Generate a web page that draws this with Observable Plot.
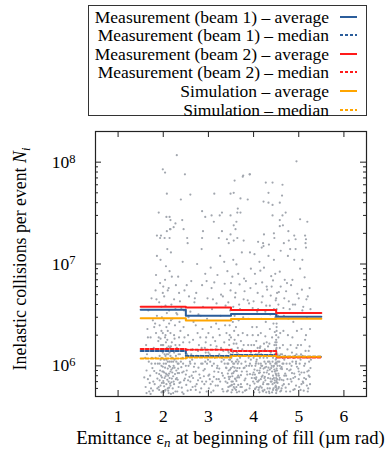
<!DOCTYPE html>
<html><head><meta charset="utf-8">
<script src="https://cdn.jsdelivr.net/npm/d3@7"></script>
<script src="https://cdn.jsdelivr.net/npm/@observablehq/plot@0.6"></script>
<style>
body{margin:0;background:#fff;}
#wrap{position:relative;width:389px;height:451px;font-family:"Liberation Serif";}
#chart{position:absolute;left:0;top:0;}
#chart svg text{font-family:"Liberation Serif";}
#legend{position:absolute;left:88px;top:5px;width:277px;height:109px;border:1px solid #333;background:#fff;font-size:17.5px;color:#000;}
.row{position:absolute;left:0;width:277px;height:18px;}
.row .lbl{position:absolute;right:37px;top:0;line-height:18px;white-space:nowrap;}
.row svg{position:absolute;left:250px;top:0;}
</style></head>
<body><div id="wrap"><div id="chart"></div><div id="legend"></div></div>
<script>
// ---- data ----
const binEdges = [1.5, 2.5, 3.5, 4.5, 5.5];
const beam1Average = [3.55e6, 3.10e6, 3.22e6, 3.03e6];
const beam1Median  = [1.40e6, 1.25e6, 1.28e6, 1.23e6];
const beam2Average = [3.80e6, 3.74e6, 3.53e6, 3.30e6];
const beam2Median  = [1.46e6, 1.44e6, 1.40e6, 1.21e6];
const simAverage   = [2.94e6, 2.79e6, 2.88e6, 2.90e6];
const simMedian    = [1.18e6, 1.21e6, 1.25e6, 1.23e6];

const seriesNames = [
  "Measurement (beam 1) – average", "Measurement (beam 1) – median",
  "Measurement (beam 2) – average", "Measurement (beam 2) – median",
  "Simulation – average", "Simulation – median"];
const seriesColors = ["#2b5d9b", "#2b5d9b", "#ff1a1a", "#ff1a1a", "#ffa500", "#ffa500"];
const seriesDashed = [false, true, false, true, false, true];

const xTickValues = [1, 2, 3, 4, 5, 6];
const yTickValues = [1e6, 1e7, 1e8];
const yMinorTicks = [6e5,7e5,8e5,9e5,2e6,3e6,4e6,5e6,6e6,7e6,8e6,9e6,2e7,3e7,4e7,5e7,6e7,7e7,8e7,9e7];

// fills: [emittance, N_i]
const fills = [
[1.61,6.2e5],[1.63,9e5],[1.62,1.6e6],[1.66,7.4e5],[1.68,1.1e6],[1.65,2.3e6],[1.69,5.6e5],[1.67,3.5e6],[1.64,1.3e6],
[1.71,8e5],[1.73,6e5],[1.72,1.9e6],[1.75,1.2e6],[1.77,2.8e6],[1.74,4.6e6],[1.78,7e5],[1.79,1.5e6],[1.76,9.5e5],[1.72,5.3e5],
[1.81,6.6e5],[1.82,1.05e6],[1.84,2.1e6],[1.85,8.5e5],[1.86,3.1e6],[1.83,5.5e6],[1.88,1.4e6],[1.87,6e5],[1.89,1.75e6],[1.84,7.8e6],[1.86,1.2e7],[1.82,2.6e6],
[1.91,5.8e5],[1.92,7.2e5],[1.93,9e5],[1.94,1.15e6],[1.95,1.6e6],[1.96,2.2e6],[1.97,3e6],[1.91,4.2e6],[1.93,6.5e6],[1.98,8.8e5],[1.99,1.35e6],[1.95,1.9e7],[1.92,2.5e6],[1.97,6.8e5],[1.99,5.2e6],[1.94,1.1e7],
[2.01,5.5e5],[2.02,6.3e5],[2.03,7.6e5],[2.04,9.6e5],[2.05,1.25e6],[2.06,1.7e6],[2.07,2.4e6],[2.08,3.3e6],[2.02,4.8e6],[2.04,7e6],[2.06,9.5e6],[2.09,1.4e7],[2.01,1.05e6],[2.03,1.45e6],[2.05,2e6],[2.08,8.2e5],[2.1,6e5],[2.07,2.9e7],[2.03,1.8e7],
[2.11,5.7e5],[2.12,7e5],[2.13,8.4e5],[2.14,1.1e6],[2.15,1.5e6],[2.16,2.1e6],[2.17,2.8e6],[2.18,4e6],[2.12,5.8e6],[2.14,8.5e6],[2.19,1.2e6],[2.16,6.4e5],[2.18,9.2e5],[2.11,1.3e6],[2.13,2.6e6],[2.17,1.3e7],[2.15,2.2e7],
[2.21,6e5],[2.22,7.9e5],[2.23,1e6],[2.24,1.35e6],[2.25,1.85e6],[2.26,2.5e6],[2.27,3.6e6],[2.28,6.2e6],[2.29,9e5],[2.22,5.4e5],[2.25,1.15e6],[2.27,1.6e6],[2.23,2.3e7],
[2.31,5.6e5],[2.32,7.3e5],[2.33,9.4e5],[2.34,1.3e6],[2.35,1.9e6],[2.36,2.7e6],[2.37,4.3e6],[2.38,6.9e5],[2.39,1.1e6],[2.33,7.5e6],[2.36,1.6e6],[2.31,3.2e6],
[2.41,6.1e5],[2.42,8.6e5],[2.43,1.2e6],[2.44,1.7e6],[2.45,2.4e6],[2.46,3.5e6],[2.47,5.5e6],[2.48,7.5e5],[2.49,1.4e6],[2.43,1.05e7],[2.45,5.3e5],
[2.51,6.5e5],[2.52,9e5],[2.53,1.3e6],[2.55,2e6],[2.56,3e6],[2.57,4.8e6],[2.58,7.8e5],[2.59,1.1e6],[2.54,1.6e7],
[2.61,5.8e5],[2.63,8e5],[2.64,1.15e6],[2.66,1.8e6],[2.67,2.7e6],[2.69,4.2e6],[2.62,6.8e6],[2.68,9.8e5],[2.65,1.45e6],
[2.71,6.3e5],[2.72,8.8e5],[2.74,1.25e6],[2.76,2.1e6],[2.78,3.2e6],[2.73,5.2e6],[2.77,7.2e5],[2.79,1.6e6],[2.75,1e7],
[2.81,5.5e5],[2.82,7.6e5],[2.84,1.05e6],[2.85,1.5e6],[2.87,2.3e6],[2.88,3.8e6],[2.86,6.2e6],[2.89,9e5],[2.83,1.25e6],[2.85,1.4e7],
[2.91,6.6e5],[2.92,9.3e5],[2.94,1.35e6],[2.95,1.9e6],[2.97,2.9e6],[2.98,4.6e6],[2.93,8e6],[2.96,5.6e5],[2.99,1.15e6],[2.94,1.7e6],
[3.01,6e5],[3.02,8.2e5],[3.04,1.1e6],[3.05,1.6e6],[3.06,2.4e6],[3.08,3.6e6],[3.07,5.8e6],[3.09,7e5],[3.03,1.3e6],[3.05,9.2e6],
[3.11,5.7e5],[3.12,7.8e5],[3.14,1.2e6],[3.15,1.75e6],[3.17,2.6e6],[3.18,4.1e6],[3.13,6.6e6],[3.19,9.5e5],[3.16,1.45e6],
[3.21,6.4e5],[3.22,8.7e5],[3.24,1.3e6],[3.25,2e6],[3.27,3.1e6],[3.28,5e6],[3.23,7.4e5],[3.29,1.1e6],[3.26,1.2e7],
[3.31,5.9e5],[3.32,8e5],[3.34,1.15e6],[3.35,1.7e6],[3.37,2.5e6],[3.38,3.9e6],[3.36,6.4e6],[3.39,9.6e5],[3.33,1.4e6],[3.35,1.05e7],
[3.41,5.6e5],[3.42,6.8e5],[3.43,8.4e5],[3.44,1.05e6],[3.45,1.35e6],[3.46,1.8e6],[3.47,2.5e6],[3.48,3.5e6],[3.49,5.5e6],[3.42,8.5e6],[3.44,1.4e6],[3.46,7.4e5],[3.48,1.15e6],[3.45,1.6e7],[3.47,2e6],
[3.51,5.5e5],[3.52,6.5e5],[3.53,7.9e5],[3.54,9.8e5],[3.55,1.25e6],[3.56,1.65e6],[3.57,2.2e6],[3.58,3.1e6],[3.59,4.7e6],[3.53,7.5e6],[3.55,1.1e7],[3.57,8.8e5],[3.52,1.45e6],[3.58,6e5],[3.54,2.7e6],[3.56,1.7e7],
[3.61,5.8e5],[3.62,7.1e5],[3.63,8.9e5],[3.64,1.15e6],[3.65,1.5e6],[3.66,2e6],[3.67,2.8e6],[3.68,4e6],[3.69,6.3e6],[3.62,9.9e6],[3.66,1.3e6],[3.68,7.7e5],[3.64,1.8e7],[3.61,2.4e6],
[3.71,6.2e5],[3.72,8.1e5],[3.73,1.05e6],[3.75,1.45e6],[3.76,2.1e6],[3.77,3e6],[3.78,4.5e6],[3.79,7.2e6],[3.74,1.3e7],[3.76,5.5e5],[3.72,1.75e6],[3.78,9.5e5],
[3.81,5.7e5],[3.82,7.5e5],[3.84,1e6],[3.85,1.4e6],[3.86,2e6],[3.88,2.9e6],[3.87,4.4e6],[3.89,1.2e6],[3.83,6.8e6],[3.85,8.8e5],
[3.91,6e5],[3.92,8.3e5],[3.94,1.15e6],[3.95,1.6e6],[3.97,2.4e6],[3.98,3.7e6],[3.93,5.8e6],[3.99,7e5],[3.96,1e6],[3.94,9e6],
[4.01,5.5e5],[4.02,6.7e5],[4.03,8.2e5],[4.04,1e6],[4.05,1.3e6],[4.06,1.75e6],[4.07,2.4e6],[4.08,3.4e6],[4.09,5.2e6],[4.03,8e6],[4.05,7.4e5],[4.07,1.15e6],[4.09,1.5e6],[4.02,1.25e7],
[4.11,5.8e5],[4.12,7.2e5],[4.13,9e5],[4.14,1.2e6],[4.15,1.55e6],[4.16,2.1e6],[4.17,2.9e6],[4.18,4.2e6],[4.19,6.6e6],[4.13,1.05e7],[4.15,6.3e5],[4.17,1e6],[4.12,1.35e6],
[4.21,5.6e5],[4.22,6.9e5],[4.23,8.6e5],[4.24,1.1e6],[4.25,1.45e6],[4.26,1.95e6],[4.27,2.7e6],[4.28,3.9e6],[4.29,6e6],[4.23,9.2e6],[4.25,7.8e5],[4.27,1.25e6],[4.21,1.6e7],[4.29,1.7e6],
[4.31,6e5],[4.32,7.6e5],[4.33,9.6e5],[4.34,1.25e6],[4.35,1.65e6],[4.36,2.3e6],[4.37,3.2e6],[4.38,4.9e6],[4.39,7.6e6],[4.33,1.2e7],[4.35,5.4e5],[4.37,1.05e6],[4.31,1.4e6],
[4.41,5.5e5],[4.42,6.6e5],[4.43,8e5],[4.44,9.8e5],[4.45,1.25e6],[4.46,1.6e6],[4.47,2.15e6],[4.48,3e6],[4.49,4.4e6],[4.43,6.9e6],[4.45,1.1e7],[4.47,7.2e5],[4.49,1.15e6],[4.41,1.9e6],[4.44,2.6e6],[4.46,1.8e7],
[4.50,5.4e5],[4.50,6.2e5],[4.51,7.1e5],[4.50,8.2e5],[4.51,9.4e5],[4.50,1.08e6],[4.51,1.25e6],[4.50,1.45e6],[4.51,1.7e6],[4.50,2e6],[4.51,2.4e6],[4.50,2.9e6],[4.51,3.6e6],[4.50,4.6e6],[4.55,6e5],[4.56,8e5],[4.57,1.1e6],[4.58,1.5e6],[4.59,2.1e6],[4.54,3.1e6],[4.56,5.3e6],[4.58,8.4e6],[4.53,1.3e6],
[4.61,5.7e5],[4.62,7.3e5],[4.63,9.3e5],[4.64,1.2e6],[4.65,1.6e6],[4.66,2.2e6],[4.67,3.1e6],[4.68,4.6e6],[4.69,7e6],[4.63,1.3e6],[4.65,2.4e7],[4.67,6.6e5],
[4.71,6.1e5],[4.72,8e5],[4.73,1.05e6],[4.75,1.45e6],[4.76,2e6],[4.77,2.9e6],[4.78,4.3e6],[4.79,9e5],[4.74,6.5e6],[4.76,1.2e7],
[4.81,5.6e5],[4.82,7.4e5],[4.84,1e6],[4.85,1.35e6],[4.86,1.9e6],[4.88,2.7e6],[4.87,4e6],[4.89,1.2e6],[4.83,6.2e6],[4.85,8.5e5],
[4.91,5.9e5],[4.92,7.8e5],[4.94,1.1e6],[4.95,1.5e6],[4.96,2.2e6],[4.98,3.3e6],[4.97,5.1e6],[4.93,1.4e7],[4.99,9.4e5],[4.95,1.3e6],
[5.01,6.2e5],[5.02,8.2e5],[5.04,1.15e6],[5.05,1.6e6],[5.06,2.3e6],[5.08,3.5e6],[5.07,5.6e6],[5.09,7e5],[5.03,9e6],[5.05,1.3e6],
[5.11,5.7e5],[5.12,7.6e5],[5.14,1.05e6],[5.15,1.4e6],[5.16,2e6],[5.18,3e6],[5.17,4.5e6],[5.19,8.8e5],[5.13,7.4e6],[5.15,1.6e7],
[5.21,6e5],[5.22,8e5],[5.23,1.1e6],[5.24,1.55e6],[5.25,2.3e6],[5.26,3.6e6],[5.24,5.8e6],[5.22,1.4e6],[5.26,9.5e5],
[2.30,1.17e8],[1.99,8.5e7],[2.04,7.9e7],[2.48,7.6e7],[2.08,4.9e7],[2.60,4.8e7],[2.39,4.3e7],[3.13,4.9e7],[3.49,4.9e7],[3.56,5e7],
[3.76,7.2e7],[3.91,7.6e7],[3.58,6.6e7],[3.71,4.4e7],[3.87,4.3e7],[2.86,3.3e7],[3.07,3e7],[2.93,2.9e7],[3.30,3.2e7],[3.25,3e7],
[3.49,3e7],[3.65,3.5e7],[3.64,3.2e7],[1.90,3.2e7],[2.14,2.9e7],[2.16,2.7e7],[2.42,2.7e7],[2.27,2.5e7],[3.12,2.6e7],[3.62,2.6e7],
[2.88,2.1e7],[2.45,2.2e7],[2.16,2.2e7],[2.08,2.1e7],[3.30,2.1e7],[3.56,2.4e7],[3.60,2.2e7],[1.86,1.9e7],[1.93,1.8e7],[2.14,1.8e7],
[2.53,1.8e7],[2.86,1.8e7],[3.23,1.8e7],[3.41,1.75e7],[3.49,1.95e7],[3.78,1.7e7],
[4.95,1.02e8],[3.77,7.4e7],[3.92,7.6e7],[4.27,6.3e7],[4.42,6.3e7],[4.64,6e7],[4.33,5e7],[4.63,4.7e7],[4.22,4.1e7],[4.33,4e7],
[4.42,3.8e7],[4.58,4e7],[3.71,3.2e7],[4.42,3e7],[4.64,3e7],[4.71,3.2e7],[4.58,2.7e7],[5.03,2.75e7],[5.19,2.6e7],[4.58,2.35e7],
[4.77,2.1e7],[4.23,1.95e7],[4.45,2e7],[4.90,1.9e7],[5.14,1.9e7],[4.10,1.65e7],[4.67,1.6e7],[4.78,1.7e7],[4.93,1.75e7],[5.16,1.75e7],
[4.22,1.5e7],[4.34,1.55e7],[5.16,1.45e7],[3.92,1.3e7],[4.18,1.45e7],[4.60,1.35e7],[4.81,1.4e7],[5.08,1.1e7],[4.90,1.1e7],
[1.58,7.7e5],[1.60,1.2e6],[1.63,5.4e5],[1.66,1.9e6],[1.70,6.8e5],[1.74,1.05e6],[1.77,5.7e5],[1.80,8.9e5],[1.80,2.4e6],[1.83,1.2e6],
[1.87,7.5e5],[1.88,1.05e6],[1.90,1.9e6],[1.92,1.25e6],[1.94,6.4e5],[1.95,8e5],[1.96,1e6],[1.98,1.6e6],[1.98,5.6e5],[2.00,7.1e5],
[2.00,8.8e5],[2.01,2.8e6],[2.02,1.15e6],[2.04,5.7e5],[2.05,7.9e5],[2.06,1.05e6],[2.07,6.6e5],[2.08,1.3e6],[2.09,1.8e6],[2.10,9.4e5],
[2.10,2.2e6],[2.12,1.55e6],[2.13,6.1e5],[2.14,7.6e5],[2.15,9.8e5],[2.16,1.25e6],[2.17,5.3e5],[2.18,6.9e5],[2.19,1.7e6],[2.20,8.6e5],
[2.20,2.9e6],[2.22,1.1e6],[2.24,6.6e5],[2.24,2e6],[2.26,8.3e5],[2.27,5.6e5],[2.28,1.25e6],[2.30,7.6e5],[2.30,1.5e6],[2.32,1.05e6],
[2.34,6.2e5],[2.35,8.5e5],[2.37,1.3e6],[2.38,2.2e6],[2.40,9.7e5],[2.42,5.5e5],[2.44,1.05e6],[2.46,7.2e5],[2.47,1.9e6],[2.50,8.2e5],
[2.52,1.2e6],[2.54,5.7e5],[2.56,1e6],[2.58,1.7e6],[2.60,7e5],[2.62,1.3e6],[2.65,6.2e5],[2.67,8.7e5],[2.70,1.05e6],[2.72,2.5e6],
[2.74,6.6e5],[2.77,1.4e6],[2.80,8.2e5],[2.82,1.9e6],[2.84,6e5],[2.87,1.05e6],[2.90,7.9e5],[2.92,1.5e6],[2.95,7e5],[2.97,1.05e6],
[3.00,1.35e6],[3.00,2.1e6],[3.03,7.4e5],[3.06,5.5e5],[3.08,1e6],[3.10,1.9e6],[3.13,8.8e5],[3.16,6.4e5],[3.18,1.55e6],[3.20,1e6],
[3.23,2.3e6],[3.26,7e5],[3.28,1.5e6],[3.30,8.5e5],[3.33,5.6e5],[3.36,1.05e6],[3.38,7e5],[3.40,1.25e6],[3.40,2.1e6],[3.42,1.05e6],
[3.43,5.7e5],[3.45,9e5],[3.46,1.6e6],[3.47,6.3e5],[3.48,7.8e5],[3.49,1.3e6],[3.50,9.5e5],[3.50,1.9e6],[3.51,7e5],[3.52,1.1e6],
[3.53,5.8e5],[3.54,1.35e6],[3.55,8.5e5],[3.56,6.2e5],[3.57,1.05e6],[3.58,1.8e6],[3.59,7.5e5],[3.60,1.25e6],[3.61,9e5],[3.62,1.65e6],
[3.63,5.5e5],[3.64,7.7e5],[3.65,1.05e6],[3.66,6.5e5],[3.67,1.4e6],[3.69,9.5e5],[3.70,1.2e6],[3.72,6.6e5],[3.74,8.8e5],[3.76,1.25e6],
[3.78,1.6e6],[3.80,7.2e5],[3.82,1.1e6],[3.84,5.8e5],[3.86,8.2e5],[3.88,1.6e6],[3.90,1e6],[3.92,6.4e5],[3.94,1.35e6],[3.96,7.6e5],
[3.98,2e6],[4.00,8.6e5],[4.00,1.2e6],[4.01,1.6e6],[4.02,9.2e5],[4.03,5.9e5],[4.04,1.4e6],[4.05,1.05e6],[4.06,7.7e5],[4.07,6.2e5],
[4.08,9e5],[4.09,1.25e6],[4.10,7e5],[4.10,2e6],[4.11,1.05e6],[4.12,8.5e5],[4.13,5.5e5],[4.14,1.5e6],[4.15,9.5e5],[4.16,7.4e5],
[4.17,1.3e6],[4.18,6.1e5],[4.19,1e6],[4.20,1.4e6],[4.20,8e5],[4.21,6.6e5],[4.22,1.2e6],[4.23,1.65e6],[4.24,5.8e5],[4.25,9.6e5],
[4.26,7.2e5],[4.27,1.05e6],[4.28,5.5e5],[4.29,8.6e5],[4.30,1.2e6],[4.31,9e5],[4.32,1.55e6],[4.33,6.6e5],[4.34,8.3e5],[4.35,1.1e6],
[4.36,6e5],[4.37,7.5e5],[4.38,1.35e6],[4.39,9.5e5],[4.40,7e5],[4.40,1.25e6],[4.41,8.8e5],[4.42,1.1e6],[4.43,5.8e5],[4.44,1.4e6],
[4.45,7.6e5],[4.46,9.2e5],[4.47,1.3e6],[4.48,6.2e5],[4.48,1.7e6],[4.49,8.4e5],[4.50,5.8e5],[4.50,7.6e5],[4.50,1.18e6],[4.50,1.6e6],
[4.51,2.2e6],[4.51,3.2e6],[4.51,5.7e5],[4.51,1.35e6],[4.52,9e5],[4.53,6.8e5],[4.54,1.1e6],[4.55,1.9e6],[4.57,7.3e5],[4.58,1e6],
[4.59,5.6e5],[4.60,1.3e6],[4.62,9.7e5],[4.64,6.4e5],[4.66,1.05e6],[4.68,8e5],[4.70,1.25e6],[4.72,5.6e5],[4.74,9.3e5],[4.76,1.2e6],
[4.78,6.6e5],[4.80,1.05e6],[4.82,1.6e6],[4.84,7e5],[4.86,1.1e6],[4.88,5.8e5],[4.90,8.4e5],[4.92,1.25e6],[4.94,6.4e5],[4.96,9.8e5],
[4.98,1.6e6],[5.00,7.4e5],[5.02,1.05e6],[5.04,5.8e5],[5.06,8.6e5],[5.08,1.25e6],[5.10,6.8e5],[5.12,1e6],[5.14,1.8e6],[5.16,7.4e5],
[5.18,1.2e6],[5.20,5.6e5],[5.22,9e5],[5.25,6.6e5],[5.27,1.15e6],
[1.85,4.5e6],[1.96,3.8e6],[2.00,6e6],[2.05,3.9e6],[2.10,5.5e6],[2.13,3.5e6],[2.19,7.5e6],[2.24,4.5e6],[2.29,3.3e6],[2.35,5.2e6],
[2.40,3.7e6],[2.52,6.2e6],[2.60,3.4e6],[2.70,4.6e6],[2.83,3.1e6],[2.96,6.8e6],[3.10,4.5e6],[3.20,7.8e6],[3.32,4.8e6],[3.44,4.2e6],
[3.50,6.5e6],[3.55,3.8e6],[3.60,5.2e6],[3.66,8e6],[3.70,3.6e6],[3.80,5.4e6],[3.90,4.1e6],[4.00,4.3e6],[4.05,6.4e6],[4.10,3.6e6],
[4.15,8.6e6],[4.20,4.8e6],[4.26,3.4e6],[4.30,5.6e6],[4.36,3.9e6],[4.40,6e6],[4.45,3.6e6],[4.48,8e6],[4.52,5.2e6],[4.55,4e6],
[4.60,6e6],[4.66,3.7e6],[4.72,5.4e6],[4.80,3.6e6],[4.86,7e6],[4.92,4e6],[5.00,4.6e6],[5.10,3.8e6],[5.20,4.8e6],
[1.90,6.2e5],[1.91,8.3e5],[1.92,1.05e6],[1.93,1.4e6],[1.94,1.85e6],[1.96,5.5e5],[1.97,7.7e5],[1.97,1.2e6],[1.99,9.8e5],[1.99,2.1e6],
[2.00,1.6e6],[2.01,6.8e5],[2.02,8.6e5],[2.03,1.3e6],[2.04,1.9e6],[2.05,5.8e5],[2.06,8.4e5],[2.07,1.15e6],[2.08,1.5e6],[2.09,7.3e5],
[2.10,1.1e6],[2.11,8e5],[2.12,5.4e5],[2.13,1e6],[2.14,1.35e6],[2.15,6.7e5],[2.16,8.8e5],[2.17,1.55e6],[2.18,1.1e6],[2.19,7.5e5],
[2.20,1.2e6],[2.21,9.5e5],[2.23,7e5],[2.25,9.6e5],[2.26,1.4e6],[2.28,7.4e5],[2.29,1.1e6],[2.32,8.5e5],[2.34,1.05e6],[2.36,6.8e5],
[3.44,6.2e5],[3.45,7.8e5],[3.46,1.15e6],[3.48,9.2e5],[3.50,6.4e5],[3.51,1.2e6],[3.52,8.4e5],[3.54,7e5],[3.55,1.05e6],[3.56,1.4e6],
[3.57,6.6e5],[3.58,9.6e5],[3.60,7.4e5],[3.61,1.1e6],[3.62,6.2e5],[3.63,1.35e6],[3.64,9.5e5],[3.66,8e5],[3.67,1.1e6],[3.68,5.6e5],
[4.02,7.6e5],[4.04,6e5],[4.06,1.1e6],[4.08,7e5],[4.10,1.3e6],[4.12,6.1e5],[4.14,8.6e5],[4.16,1.05e6],[4.18,7.8e5],[4.20,5.7e5],
[4.22,9.4e5],[4.24,7.6e5],[4.26,1.25e6],[4.28,9.8e5],[4.30,6.6e5],[4.32,1.1e6],[4.34,5.6e5],[4.36,9.2e5],[4.38,7e5],[4.40,1e6],
[4.42,7.4e5],[4.43,1.2e6],[4.44,6e5],[4.45,1e6],[4.46,6.8e5],[4.47,8.8e5],[4.48,1.05e6],[4.49,6.4e5],[4.49,1.4e6],[4.50,6.9e5],
[4.50,9e5],[4.50,1.3e6],[4.51,5.9e5],[4.51,8e5],[4.51,1.05e6],[4.51,1.5e6],[4.50,1.8e6],[4.51,2.6e6],[4.52,7.4e5],[4.53,1e6],
[4.55,8.4e5],[4.56,6.2e5],[4.57,1.25e6],[4.58,7.6e5],[4.60,9.4e5],[4.62,6e5],[4.64,1.05e6],[4.66,7.2e5],[4.68,1.15e6],[4.70,8.4e5],
[2.45,8.8e5],[2.50,1e6],[2.55,7.2e5],[2.60,1.05e6],[2.66,7.6e5],[2.72,5.8e5],[2.78,9.6e5],[2.86,7e5],[2.93,1.1e6],[3.00,8e5],
[3.05,6.6e5],[3.12,1.05e6],[3.18,7.4e5],[3.24,9.4e5],[3.30,1.2e6],[3.36,7.6e5],[3.40,9.5e5],[3.74,6.2e5],[3.80,9.6e5],[3.86,6.6e5],
[3.92,1.05e6],[3.98,8.2e5],[4.75,7.4e5],[4.82,9.2e5],[4.88,7.6e5],[4.94,1.05e6],[5.00,8.8e5],[5.06,6.6e5],[5.12,8.6e5],[5.18,6.4e5],[5.24,7.8e5]
];

// ---- build ----
const FONT = '"Liberation Serif"';
const allSeries = [beam1Average, beam1Median, beam2Average, beam2Median, simAverage, simMedian];
const stepMarks = allSeries.map((vals, k) => {
  const pts = binEdges.map((x, i) => ({x, y: vals[Math.min(i, vals.length - 1)]}));
  return Plot.line(pts, {x: "x", y: "y", curve: "step-after", stroke: seriesColors[k], strokeWidth: 2,
    strokeDasharray: seriesDashed[k] ? "3,2" : null});
});

const W = 389, H = 451, mL = 95, mR = 23, mT = 131, mB = 55;
const fw = W - mL - mR, fh = H - mT - mB;
const major = 6, minor = 3;

const chart = Plot.plot({
  width: W, height: H,
  marginLeft: mL, marginRight: mR, marginTop: mT, marginBottom: mB,
  style: {fontFamily: FONT, fontSize: "17.5px", color: "#000", background: "#fff"},
  x: {domain: [0.5, 6.5]},
  y: {type: "log", domain: [5e5, 2e8]},
  marks: [
    Plot.dot(fills, {x: d => d[0], y: d => d[1], r: 1.1, fill: "#a1a6ae", stroke: null}),
    ...stepMarks,
    Plot.frame({stroke: "#222", strokeWidth: 1.2}),
    Plot.ruleX(xTickValues, {x: d => d, insetTop: fh - major, stroke: "#222"}),
    Plot.ruleX(xTickValues, {x: d => d, insetBottom: fh - major, stroke: "#222"}),
    Plot.ruleY(yTickValues, {y: d => d, insetRight: fw - major, stroke: "#222"}),
    Plot.ruleY(yTickValues, {y: d => d, insetLeft: fw - major, stroke: "#222"}),
    Plot.ruleY(yMinorTicks, {y: d => d, insetRight: fw - minor, stroke: "#222"}),
    Plot.ruleY(yMinorTicks, {y: d => d, insetLeft: fw - minor, stroke: "#222"}),
    Plot.axisX({ticks: xTickValues, tickSize: 0, tickPadding: 13, label: null, fontSize: 17.5, tickFormat: d => String(d)}),
    Plot.axisY({ticks: yTickValues, tickSize: 0, tickPadding: 20, label: null, fontSize: 17.5,
      tickFormat: d => "10^" + Math.round(Math.log10(d))})
  ]
});
chart.setAttribute("font-family", FONT);
document.getElementById("chart").appendChild(chart);

const svg = d3.select(chart);
svg.selectAll('g[aria-label="y-axis tick label"] text').each(function() {
  const t = d3.select(this);
  const s = t.text();
  const exp = s.split("^")[1];
  t.text(null);
  t.append("tspan").text("10");
  t.append("tspan").attr("dy", "-0.42em").attr("font-size", "12.5px").text(exp);
});
// axis titles
const yl = svg.append("text")
  .attr("transform", "translate(25.5,259) rotate(-90)")
  .attr("text-anchor", "middle").attr("font-size", 17.8).attr("fill", "#000")
  .attr("font-family", FONT);
yl.append("tspan").text("Inelastic collisions per event ");
yl.append("tspan").attr("font-style", "italic").text("N");
yl.append("tspan").attr("font-style", "italic").attr("font-size", 12.5).attr("dy", 4).text("i");

const xl = svg.append("text")
  .attr("x", (mL + W - mR) / 2).attr("y", 443.5)
  .attr("text-anchor", "middle").attr("font-size", 18.6).attr("fill", "#000")
  .attr("font-family", FONT);
xl.append("tspan").text("Emittance ε");
xl.append("tspan").attr("font-style", "italic").attr("font-size", 13).attr("dy", 3.5).text("n");
xl.append("tspan").attr("dy", -3.5).text(" at beginning of fill (µm rad)");

// legend
const leg = document.getElementById("legend");
seriesNames.forEach((name, k) => {
  const row = document.createElement("div");
  row.className = "row";
  row.style.top = (1.5 + 18.6 * k) + "px";
  row.innerHTML = `<span class="lbl">${name}</span>` +
    `<svg width="20" height="18"><line x1="1" x2="18" y1="9" y2="9" stroke="${seriesColors[k]}" stroke-width="2" ${seriesDashed[k] ? 'stroke-dasharray="3,2"' : ''}/></svg>`;
  leg.appendChild(row);
});
</script></body></html>
